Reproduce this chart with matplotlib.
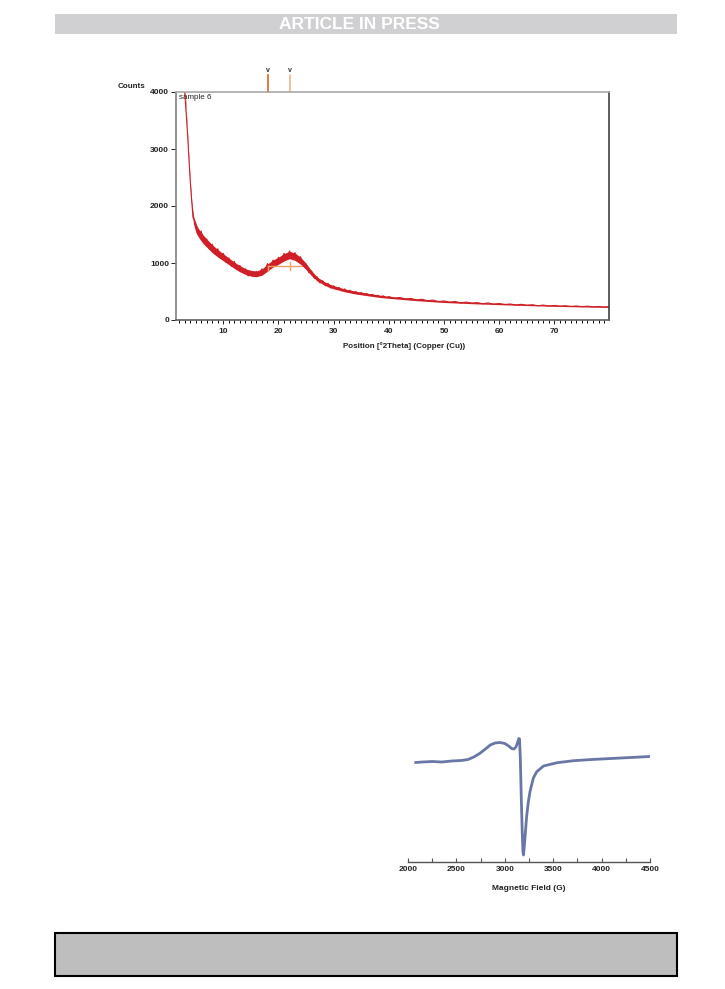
import numpy as np
import matplotlib.pyplot as plt
from matplotlib.patches import Rectangle
from matplotlib.ticker import MultipleLocator

plt.rcParams['font.family'] = ['Liberation Sans', 'DejaVu Sans']

#%% XRD data
# noisy trace
two_theta = list(np.arange(3.0, 40.01, 0.5)) + list(range(41, 80)) + [79.9]
counts = [4000, 3300, 2450, 1800, 1700, 1480, 1560, 1350, 1420, 1240, 1330, 1160,
          1250, 1080, 1170, 1010, 1090, 940, 1030, 880, 960, 830, 900, 770, 860,
          760, 850, 780, 900, 830, 990, 900, 1050, 960, 1100, 1020, 1170, 1070,
          1210, 1090, 1180, 1040, 1110, 940, 980, 830, 860, 730, 760, 650, 690,
          600, 640, 560, 600, 540, 570, 510, 545, 495, 520, 470, 500, 455, 480,
          440, 465, 425, 450, 415, 435, 400, 425, 390, 410,
          380, 395, 365, 380, 350, 365, 335, 350, 320, 335, 310, 325, 300, 315,
          295, 305, 285, 300, 275, 290, 270, 282, 262, 275, 258, 268, 250, 262,
          245, 256, 242, 250, 238, 246, 234, 243, 230, 238, 228, 234]
# mean level and half width of the noise band
band_theta = [3.0, 3.2, 3.4, 3.6, 3.8, 4.0, 4.3, 4.6, 5.0, 5.5, 6.0, 6.5, 7.0, 7.5,
              8.0, 9, 10, 11, 12, 13, 14, 15, 16, 17, 18, 19, 20, 21, 22, 23, 24,
              25, 26, 27, 28, 29, 30, 32, 34, 36, 38, 40, 45, 50, 55, 60, 65, 70,
              75, 79.9]
band_mean = [4000, 3800, 3450, 3100, 2750, 2400, 2000, 1760, 1620, 1530, 1460,
             1400, 1350, 1300, 1250, 1170, 1100, 1030, 960, 900, 850, 820, 810,
             840, 920, 990, 1040, 1100, 1140, 1110, 1040, 940, 820, 720, 660, 610,
             575, 520, 480, 450, 420, 398, 355, 322, 300, 282, 265, 251, 240, 232]
band_half = [50, 50, 50, 50, 50, 55, 62, 70, 75, 75, 75, 75, 72, 70, 70, 65, 62,
             58, 55, 55, 50, 50, 50, 55, 62, 62, 62, 65, 65, 65, 62, 55, 44, 35,
             31, 30, 28, 25, 24, 22, 20, 18, 16, 15, 14, 13, 12, 11, 11, 11]
peak_pos = [18.15, 22.08]
peak_cols = ['#e0641e', '#f2b48a']

#%% EPR data
field = [2080, 2150, 2250, 2350, 2450, 2550, 2620, 2680, 2740, 2800, 2850, 2900,
         2950, 3000, 3040, 3070, 3095, 3115, 3130, 3145, 3152, 3160, 3170, 3180,
         3188, 3193, 3200, 3209, 3226, 3243, 3260, 3295, 3330, 3400, 3540, 3710,
         3900, 4100, 4300, 4500]
signal = [-0.5, 0, 0.5, 0, 1, 1.5, 2.5, 5, 8.5, 13, 17, 19, 19.5, 18.5, 16, 13.5,
          13, 15, 19, 23.5, 23, 5, -35, -70, -90, -93, -86, -75, -54, -40, -29.7,
          -16, -9.7, -4, -0.7, 1.3, 2.5, 3.5, 4.5, 5.5]

W, H = 725, 989
fig = plt.figure(figsize=(W / 100, H / 100), dpi=100)

# header bar
fig.add_artist(Rectangle((55 / W, 1 - 34 / H), 622 / W, 20 / H,
                         transform=fig.transFigure, color='#d0d0d2', lw=0))
fig.text(359 / W, 1 - 24.5 / H, 'ARTICLE IN PRESS', color='white',
         weight='bold', size=12.5, ha='center', va='center')

#%% XRD panel
red = '#d01f26'
ax = fig.add_axes([176 / W, 1 - 320 / H, 433 / W, 228 / H])
m = np.array(band_mean)
h = np.array(band_half)
ax.fill_between(band_theta, m - h, m + h, color=red, lw=0)
ax.plot(two_theta, counts, color=red, lw=0.8)

# peak width marker
ax.plot([18.1, 24.0], [955, 955], color='#f0a060', lw=1.0)
ax.plot([22.08, 22.08], [880, 1025], color='#f0a060', lw=1.0)
ax.plot([18.1, 18.1], [860, 950], color='#f0a060', lw=1.0)

ax.set_xlim(1.43, 79.9)
ax.set_ylim(0, 4000)
ax.set_yticks([0, 1000, 2000, 3000, 4000])
ax.set_xticks(range(10, 80, 10))
ax.xaxis.set_minor_locator(MultipleLocator(1))
ax.tick_params(axis='y', length=3.5, width=0.7, pad=1.5, labelsize=6,
               colors='#222222')
ax.tick_params(axis='x', which='major', length=3, width=0.7, pad=3,
               labelsize=6, colors='#222222')
ax.tick_params(axis='x', which='minor', length=2, width=0.7)
for lab in ax.get_xticklabels() + ax.get_yticklabels():
    lab.set_fontweight('bold')
ax.spines['left'].set_color('#808080')
ax.spines['bottom'].set_color('#606060')
ax.spines['top'].set_color('#a8a8a8')
ax.spines['right'].set_color('#404040')
for s in ax.spines.values():
    s.set_linewidth(1.2)

# reference peak lines above the frame
trans = ax.get_xaxis_transform()
for p, col in zip(peak_pos, peak_cols):
    ax.plot([p, p], [1.0, 1.075], color=col, lw=1.2, transform=trans,
            clip_on=False)
    ax.text(p, 1.08, 'v', color='#333333', size=5, ha='center', va='bottom',
            transform=trans, weight='bold')

ax.text(0.006, 0.993, 'sample 6', transform=ax.transAxes, ha='left', va='top',
        size=5.8, color='#222222')
fig.text(132 / W, 1 - 87 / H, 'Counts', ha='center', va='center', size=5.8,
         weight='bold', color='#222222')
fig.text(404 / W, 1 - 346 / H, 'Position [°2Theta] (Copper (Cu))', ha='center',
         va='center', size=5.8, weight='bold', color='#222222')

#%% EPR panel
ax2 = fig.add_axes([408 / W, 1 - 862 / H, 242 / W, 132 / H])
ax2.plot(field, signal, color='#6877a6', lw=2.0)
ax2.set_xlim(2000, 4500)
ax2.set_ylim(-100, 32)
ax2.set_yticks([])
ax2.set_xticks(range(2000, 4501, 500))
ax2.xaxis.set_minor_locator(MultipleLocator(250))
for side in ['left', 'top', 'right']:
    ax2.spines[side].set_visible(False)
ax2.spines['bottom'].set_color('#555555')
ax2.spines['bottom'].set_linewidth(1.0)
ax2.tick_params(axis='x', which='both', direction='in', length=3, width=0.8,
                colors='#555555', labelcolor='#222222', labelsize=6, pad=3)
for lab in ax2.get_xticklabels():
    lab.set_fontweight('bold')
fig.text(529 / W, 1 - 889 / H, 'Magnetic Field (G)', ha='center', va='center',
         size=6, weight='bold', color='#222222')
ax2.patch.set_alpha(0)

# footer box
fig.add_artist(Rectangle((55 / W, 1 - 976 / H), 622 / W, 43 / H,
                         transform=fig.transFigure, facecolor='#bebebe',
                         edgecolor='black', lw=1.5))

fig.savefig('out.png', dpi=100)
